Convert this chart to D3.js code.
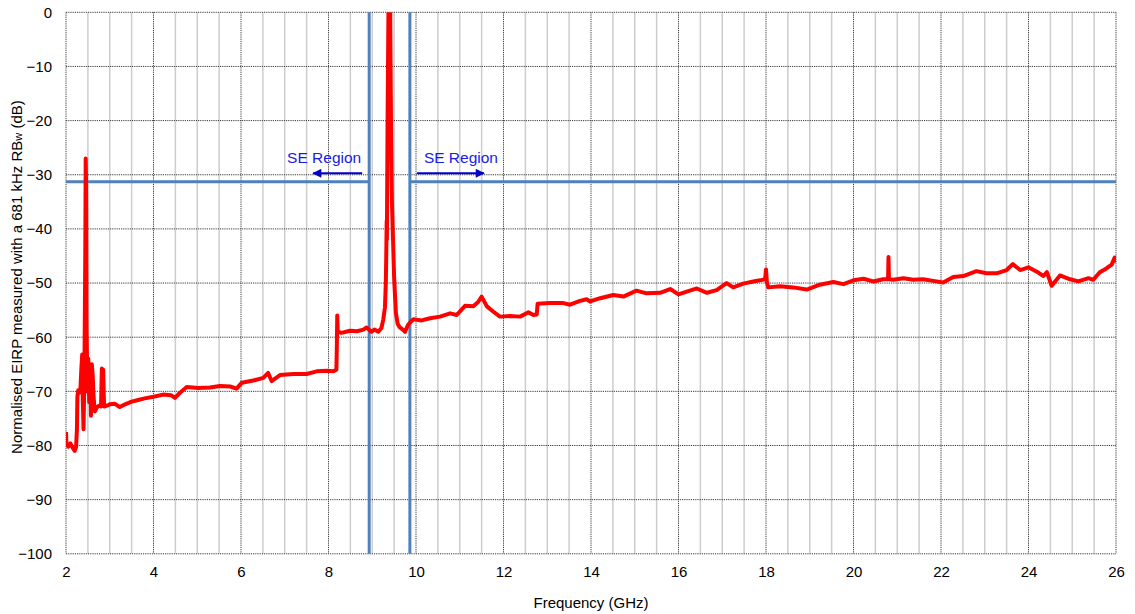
<!DOCTYPE html>
<html>
<head>
<meta charset="utf-8">
<script src="https://cdn.jsdelivr.net/npm/d3@7"></script>
<style>
  html, body { margin: 0; padding: 0; background: #ffffff; }
  svg { display: block; font-family: "Liberation Sans", Arial, sans-serif; }
</style>
</head>
<body>
<svg id="chart" width="1135" height="614"></svg>
<script>
// ---------- data ----------
const freqGHz = [
  2.00, 2.01, 2.05, 2.10, 2.15, 2.20, 2.23, 2.25, 2.26, 2.28, 2.31, 2.33, 2.35, 2.37, 2.38, 2.40,
  2.42, 2.44, 2.45, 2.46, 2.47, 2.49, 2.51, 2.53, 2.55, 2.57, 2.59, 2.61, 2.63, 2.66, 2.70, 2.76,
  2.80, 2.82, 2.83, 2.85, 2.87, 2.95, 3.00, 3.12, 3.23, 3.35, 3.50, 3.65, 3.80, 4.00, 4.22, 4.40,
  4.49, 4.60, 4.76, 5.02, 5.29, 5.52, 5.75, 5.90, 6.02, 6.28, 6.51, 6.62, 6.70, 6.89, 7.20, 7.50,
  7.73, 7.96, 8.11, 8.18, 8.19, 8.20, 8.21, 8.30, 8.49, 8.65, 8.80, 8.87, 8.98, 9.05, 9.14, 9.21,
  9.25, 9.29, 9.31, 9.32, 9.33, 9.335, 9.35, 9.37, 9.39, 9.41, 9.43, 9.45, 9.50, 9.54, 9.58, 9.63,
  9.70, 9.75, 9.82, 9.90, 9.94, 10.13, 10.32, 10.55, 10.78, 10.93, 11.12, 11.31, 11.42, 11.50, 11.62, 11.77,
  11.92, 12.15, 12.38, 12.57, 12.68, 12.76, 12.78, 13.06, 13.37, 13.52, 13.75, 13.90, 13.98, 14.21, 14.51, 14.74,
  15.04, 15.27, 15.58, 15.81, 16.00, 16.19, 16.42, 16.65, 16.87, 17.10, 17.25, 17.48, 17.71, 17.86, 17.98, 18.00,
  18.02, 18.05, 18.32, 18.62, 18.93, 19.23, 19.54, 19.77, 20.00, 20.23, 20.45, 20.68, 20.79, 20.80, 20.81, 20.91,
  21.14, 21.37, 21.59, 21.82, 22.05, 22.28, 22.51, 22.81, 23.04, 23.27, 23.50, 23.64, 23.81, 24.00, 24.19, 24.34,
  24.42, 24.53, 24.72, 24.95, 25.14, 25.37, 25.48, 25.63, 25.78, 25.90, 25.97, 26.00
];
const eirpDb = [
  -77.5, -79.8, -80.2, -79.6, -80.4, -81.0, -80.3, -77.0, -71.0, -69.8, -70.2, -69.5, -66.0, -63.2, -70.0, -77.0,
  -68.0, -45.0, -27.0, -32.0, -58.0, -70.0, -64.0, -72.0, -65.0, -74.5, -65.0, -67.0, -71.0, -73.7, -73.0, -72.6,
  -72.8, -65.8, -72.5, -66.0, -72.8, -72.6, -72.4, -72.3, -72.9, -72.4, -71.9, -71.6, -71.3, -71.0, -70.6, -70.7,
  -71.2, -70.3, -69.2, -69.4, -69.3, -69.0, -69.1, -69.5, -68.4, -68.0, -67.5, -66.6, -68.1, -67.0, -66.8, -66.8,
  -66.3, -66.2, -66.3, -66.0, -62.0, -56.0, -59.0, -59.2, -58.8, -58.9, -58.6, -58.2, -59.0, -58.6, -59.0, -58.3,
  -56.8, -54.5, -50.0, -45.0, -38.5, -42.0, -20.0, 0.0, 2.0, 0.0, -22.0, -35.0, -49.0, -55.5, -57.5, -58.2,
  -58.6, -59.0, -57.7, -57.0, -56.7, -56.9, -56.5, -56.2, -55.6, -55.9, -54.2, -54.3, -53.5, -52.5, -54.3, -55.3,
  -56.2, -56.1, -56.2, -55.4, -55.9, -55.8, -53.8, -53.7, -53.7, -54.0, -53.3, -53.0, -53.4, -52.8, -52.2, -52.5,
  -51.4, -51.9, -51.8, -51.1, -52.1, -51.6, -51.0, -51.8, -51.3, -50.0, -50.8, -50.1, -49.7, -49.5, -49.3, -47.5,
  -49.8, -50.8, -50.6, -50.8, -51.2, -50.3, -49.8, -50.2, -49.5, -49.2, -49.7, -49.3, -49.3, -45.2, -49.3, -49.4,
  -49.1, -49.4, -49.3, -49.6, -49.9, -48.9, -48.7, -47.8, -48.2, -48.2, -47.6, -46.5, -47.6, -47.1, -47.9, -48.7,
  -48.0, -50.5, -48.6, -49.3, -49.7, -49.1, -49.4, -48.0, -47.3, -46.6, -45.3, -46.2
];
const xTicks = [2, 4, 6, 8, 10, 12, 14, 16, 18, 20, 22, 24, 26];
const xMinorTicks = [2.5, 3, 3.5, 4.5, 5, 5.5, 6.5, 7, 7.5, 8.5, 9, 9.5, 10.5, 11, 11.5, 12.5, 13, 13.5,
  14.5, 15, 15.5, 16.5, 17, 17.5, 18.5, 19, 19.5, 20.5, 21, 21.5, 22.5, 23, 23.5, 24.5, 25, 25.5];
const yTicks = [0, -10, -20, -30, -40, -50, -60, -70, -80, -90, -100];
const seLimitDb = -31.3;
const seBoundsGHz = [8.93, 9.86];
const seLabel = "SE Region";
const xTitle = "Frequency (GHz)";
const yTitleMain = "Normalised EIRP measured with a 681 kHz RB";
const yTitleSub = "w";
const yTitleEnd = " (dB)";

// ---------- layout ----------
const svg = d3.select("#chart");
const L = 66, R = 1116, T = 12.3, B = 553.8;
const x = d3.scaleLinear().domain([2, 26]).range([L, R]);
const y = d3.scaleLinear().domain([-100, 0]).range([B, T]);

svg.append("rect").attr("width", 1135).attr("height", 614).attr("fill", "#ffffff");

const grid = svg.append("g");
grid.selectAll("line.minor").data(xMinorTicks).join("line")
  .attr("x1", d => x(d)).attr("x2", d => x(d))
  .attr("y1", T).attr("y2", B)
  .attr("stroke", "#cdcdcd").attr("stroke-width", 1.5);
grid.selectAll("line.majx").data(xTicks).join("line")
  .attr("x1", d => x(d)).attr("x2", d => x(d))
  .attr("y1", T).attr("y2", B)
  .attr("stroke", "#3a3a3a").attr("stroke-width", 1).attr("stroke-dasharray", "1.2,1");
grid.selectAll("line.majy").data(yTicks).join("line")
  .attr("x1", L).attr("x2", R)
  .attr("y1", d => y(d)).attr("y2", d => y(d))
  .attr("stroke", "#3a3a3a").attr("stroke-width", 1).attr("stroke-dasharray", "1.2,1");

const xAxis = svg.append("g").attr("transform", `translate(0,${B})`)
  .call(d3.axisBottom(x).tickValues(xTicks).tickSize(0).tickPadding(13).tickFormat(d3.format("d")));
xAxis.select(".domain").remove();
xAxis.selectAll("text").attr("font-size", 15).attr("fill", "#000")
  .attr("font-family", "'Liberation Sans', Arial, sans-serif");

const yAxis = svg.append("g").attr("transform", `translate(${L},0)`)
  .call(d3.axisLeft(y).tickValues(yTicks).tickSize(0).tickPadding(14).tickFormat(d3.format("d")));
yAxis.select(".domain").remove();
yAxis.selectAll("text").attr("font-size", 15).attr("fill", "#000")
  .attr("font-family", "'Liberation Sans', Arial, sans-serif");

svg.append("text").attr("x", (L + R) / 2).attr("y", 608).attr("text-anchor", "middle")
  .attr("font-size", 15).attr("fill", "#000").text(xTitle);
const yt = svg.append("text").attr("transform", `translate(22,${(T + B) / 2 - 6}) rotate(-90)`)
  .attr("text-anchor", "middle").attr("font-size", 15).attr("fill", "#000");
yt.append("tspan").text(yTitleMain);
yt.append("tspan").attr("font-size", 11).text(yTitleSub);
yt.append("tspan").text(yTitleEnd);

svg.append("clipPath").attr("id", "plotclip").append("rect")
  .attr("x", L).attr("y", T).attr("width", R - L).attr("height", B - T);

const blue = "#4f81bd";
const lim = svg.append("g");
lim.append("line").attr("x1", x(2)).attr("x2", x(seBoundsGHz[0]))
  .attr("y1", y(seLimitDb)).attr("y2", y(seLimitDb)).attr("stroke", blue).attr("stroke-width", 3);
lim.append("line").attr("x1", x(seBoundsGHz[1])).attr("x2", x(26))
  .attr("y1", y(seLimitDb)).attr("y2", y(seLimitDb)).attr("stroke", blue).attr("stroke-width", 3);
lim.selectAll("line.v").data(seBoundsGHz).join("line")
  .attr("x1", d => x(d)).attr("x2", d => x(d))
  .attr("y1", y(0)).attr("y2", y(-100)).attr("stroke", blue).attr("stroke-width", 3);

const pts = freqGHz.map((f, i) => [f, eirpDb[i]]);
svg.append("path").datum(pts)
  .attr("clip-path", "url(#plotclip)")
  .attr("fill", "none").attr("stroke", "#ff0000").attr("stroke-width", 4)
  .attr("stroke-linejoin", "round")
  .attr("d", d3.line().x(d => x(d[0])).y(d => y(d[1])));

const annBlue = "#1a1ae6";
const defs = svg.append("defs");
defs.append("marker").attr("id", "arrowhead").attr("viewBox", "0 0 10 10")
  .attr("refX", 9).attr("refY", 5).attr("markerWidth", 5).attr("markerHeight", 4.5)
  .attr("orient", "auto-start-reverse").attr("markerUnits", "strokeWidth")
  .append("path").attr("d", "M0,0 L10,5 L0,10 z").attr("fill", "#0000c8");

svg.append("text").attr("x", x(seBoundsGHz[0]) - 8).attr("y", 162.5).attr("text-anchor", "end")
  .attr("font-size", 15.5).attr("fill", annBlue).text(seLabel);
svg.append("text").attr("x", x(seBoundsGHz[1]) + 14).attr("y", 162.5).attr("text-anchor", "start")
  .attr("font-size", 15.5).attr("fill", annBlue).text(seLabel);

svg.append("line").attr("x1", x(seBoundsGHz[0]) - 7).attr("x2", x(seBoundsGHz[0]) - 56)
  .attr("y1", 173.3).attr("y2", 173.3).attr("stroke", "#0000c8").attr("stroke-width", 2)
  .attr("marker-end", "url(#arrowhead)");
svg.append("line").attr("x1", x(seBoundsGHz[1]) + 7).attr("x2", x(seBoundsGHz[1]) + 74)
  .attr("y1", 173.3).attr("y2", 173.3).attr("stroke", "#0000c8").attr("stroke-width", 2)
  .attr("marker-end", "url(#arrowhead)");
</script>
</body>
</html>
